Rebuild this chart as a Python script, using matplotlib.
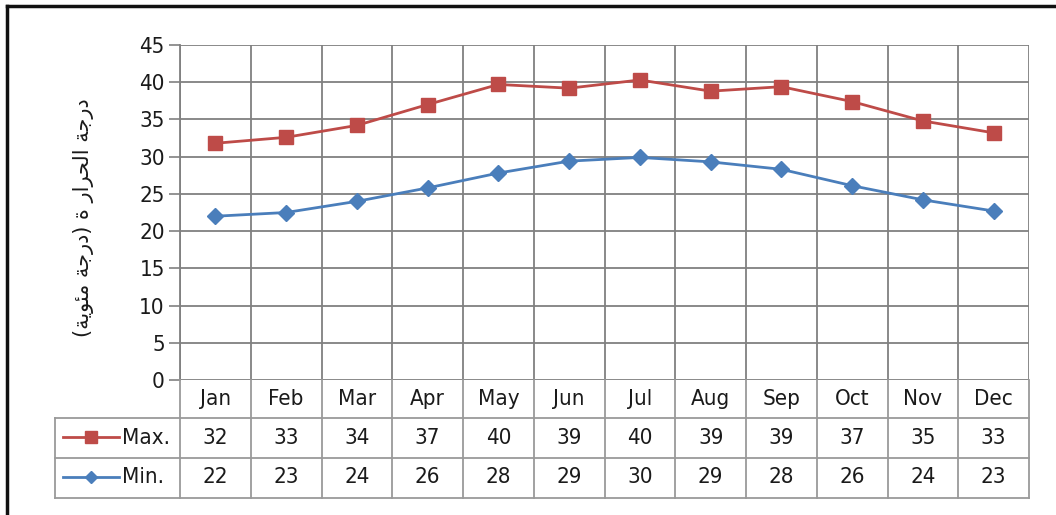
import numpy as np
import matplotlib.pyplot as plt
from matplotlib import transforms, font_manager
from matplotlib.lines import Line2D

months = ["Jan", "Feb", "Mar", "Apr", "May", "Jun", "Jul", "Aug", "Sep", "Oct", "Nov", "Dec"]
# plotted values
max_vals = [31.8, 32.6, 34.2, 37.0, 39.7, 39.2, 40.3, 38.8, 39.4, 37.4, 34.8, 33.2]
min_vals = [22.0, 22.5, 24.0, 25.8, 27.8, 29.4, 29.9, 29.3, 28.3, 26.1, 24.2, 22.7]
# values printed in the data table
max_table = [32, 33, 34, 37, 40, 39, 40, 39, 39, 37, 35, 33]
min_table = [22, 23, 24, 26, 28, 29, 30, 29, 28, 26, 24, 23]
yticks = [0, 5, 10, 15, 20, 25, 30, 35, 40, 45]

# "درجة الحرارة (درجة مئوية)" in shaped presentation forms, visual order
ylabel_shaped = ["\ufea9", "\ufead", "\ufe9f", "\ufe94", " ",
                 "\ufe8d", "\ufedf", "\ufea4", "\ufeae", "\ufe8d", "\ufead", " ", "\ufe93", " ",
                 "(", "\ufea9", "\ufead", "\ufe9f", "\ufe94", " ",
                 "\ufee3", "\ufe8c", "\ufeee", "\ufef3", "\ufe94", ")"]
ylabel = "".join(reversed(ylabel_shaped)).translate(str.maketrans("()", ")("))

RED = "#BE4B48"
BLUE = "#4A7EBB"
GRID = "#808080"
TBL = "#9a9a9a"
TXT = "#1a1a1a"
W, H = 1056, 515

# narrow font like Arial Narrow if one is installed
names = {f.name for f in font_manager.fontManager.ttflist}
if "Liberation Sans Narrow" in names:
    plt.rcParams['font.family'] = ['Liberation Sans Narrow', 'DejaVu Sans']
    FS = 17
else:
    plt.rcParams['font.family'] = ['DejaVu Sans']
    plt.rcParams['font.stretch'] = 'condensed'
    FS = 16

fig = plt.figure(figsize=(W / 100, H / 100), dpi=100)
ax = fig.add_axes([180 / W, 1 - 380 / H, (1029 - 180) / W, (380 - 45) / H])

x = np.arange(len(months))
ax.plot(x, max_vals, color=RED, lw=2, marker="s", ms=10, zorder=3)
ax.plot(x, min_vals, color=BLUE, lw=2, marker="D", ms=8.5, zorder=3)

ax.set_xlim(-0.5, len(months) - 0.5)
ax.set_ylim(0, 45)
ax.set_yticks(yticks)
ax.set_yticklabels([str(v) for v in yticks], fontsize=FS, color=TXT)
ax.tick_params(axis="y", length=8, width=1.2, color=GRID, pad=3)
ax.set_xticks([])
ax.grid(axis="y", color=GRID, lw=1.3)
for xv in np.arange(-0.5, len(months), 1.0):
    ax.axvline(xv, color=GRID, lw=1.3, zorder=1)
for s in ax.spines.values():
    s.set_visible(False)
ax.spines["left"].set_visible(True)
ax.spines["left"].set_color(GRID)
ax.spines["left"].set_linewidth(1.3)

fig.text(83 / W, 1 - 218 / H, ylabel, rotation=90, ha="center", va="center",
         fontsize=15, family=["DejaVu Sans"], stretch="normal", color=TXT)

# data table below the plot
tr = transforms.blended_transform_factory(ax.transData, fig.transFigure)
fy = lambda py: 1 - py / H
fx = lambda px: px / W
rows_y = [380, 418, 458, 498]
for py in rows_y[1:]:
    fig.add_artist(Line2D([fx(55), fx(1029)], [fy(py), fy(py)], color=TBL, lw=1.3))
for xv in np.arange(-0.5, len(months) + 0.5, 1.0):
    fig.add_artist(Line2D([xv, xv], [fy(380), fy(498)], color=TBL, lw=1.3, transform=tr))
fig.add_artist(Line2D([fx(55), fx(55)], [fy(418), fy(498)], color=TBL, lw=1.3))

for i, m in enumerate(months):
    fig.text(i, fy(399), m, transform=tr, ha="center", va="center", fontsize=FS, color=TXT)
    fig.text(i, fy(438), str(max_table[i]), transform=tr, ha="center", va="center", fontsize=FS, color=TXT)
    fig.text(i, fy(477), str(min_table[i]), transform=tr, ha="center", va="center", fontsize=FS, color=TXT)

fig.add_artist(Line2D([fx(63), fx(91), fx(119)], [fy(437)] * 3, color=RED, lw=2,
                      marker="s", ms=8, markevery=[1]))
fig.add_artist(Line2D([fx(63), fx(91), fx(119)], [fy(477)] * 3, color=BLUE, lw=2,
                      marker="D", ms=6.5, markevery=[1]))
fig.text(fx(122), fy(438), "Max.", ha="left", va="center", fontsize=FS, color=TXT)
fig.text(fx(122), fy(477), "Min.", ha="left", va="center", fontsize=FS, color=TXT)

# outer frame
fig.add_artist(Line2D([fx(7), fx(1056)], [fy(6), fy(6)], color="#111111", lw=2.5))
fig.add_artist(Line2D([fx(7), fx(7)], [fy(6), fy(515)], color="#111111", lw=2.5))

fig.savefig("out.png", dpi=100)
